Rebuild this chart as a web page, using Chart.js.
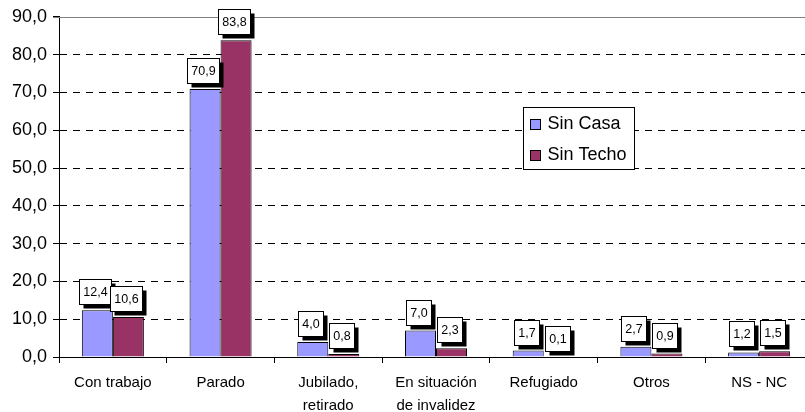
<!DOCTYPE html>
<html><head><meta charset="utf-8">
<script src="https://cdn.jsdelivr.net/npm/chart.js@4"></script>
<style>html,body{margin:0;padding:0;background:#fff;overflow:hidden;width:805px;height:412px}#wrap{width:813px;height:412px;position:relative}</style>
</head><body><div id="wrap"><canvas id="c"></canvas></div>
<script>
const categories = [["Con trabajo"], ["Parado"], ["Jubilado,", "retirado"], ["En situación", "de invalidez"], ["Refugiado"], ["Otros"], ["NS - NC"]];
const seriesNames = ["Sin Casa", "Sin Techo"];
const sinCasa = [12.4, 70.9, 4.0, 7.0, 1.7, 2.7, 1.2];
const sinTecho = [10.6, 83.8, 0.8, 2.3, 0.1, 0.9, 1.5];
const yMin = 0, yMax = 90, yStep = 10;

const colors = ["#9999FF", "#993366"];
const fmt = v => v.toFixed(1).replace('.', ',');

const labelPlugin = {
  id: 'boxLabels',
  afterDatasetsDraw(chart) {
    const ctx = chart.ctx;
    ctx.save();
    ctx.font = '12.5px "Liberation Sans", Arial, sans-serif';
    ctx.textAlign = 'center';
    ctx.textBaseline = 'middle';
    chart.data.datasets.forEach((ds, i) => {
      chart.getDatasetMeta(i).data.forEach((el, j) => {
        const txt = fmt(ds.data[j]);
        const tw = ctx.measureText(txt).width;
        const w = Math.round(tw + 8), h = 25;
        const cx = el.x - 2;
        const left = Math.round(cx - w / 2) + 0.5;
        const bottom = Math.round(el.y - 6) + 0.5;
        const top = bottom - h;
        ctx.fillStyle = '#000';
        ctx.fillRect(left + 4, top + 4, w, h);
        ctx.fillStyle = '#fff';
        ctx.fillRect(left, top, w, h);
        ctx.strokeStyle = '#000';
        ctx.lineWidth = 1;
        ctx.strokeRect(left, top, w, h);
        ctx.fillStyle = '#000';
        ctx.fillText(txt, left + w / 2, top + h / 2 + 1);
      });
    });
    ctx.restore();
  }
};

const framePlugin = {
  id: 'frame',
  beforeDatasetsDraw(chart) {
    const {ctx, chartArea: a} = chart;
    ctx.save();
    ctx.strokeStyle = '#808080';
    ctx.lineWidth = 1;
    ctx.beginPath();
    ctx.moveTo(a.left - 6, Math.round(a.top) + 0.5);
    ctx.lineTo(a.right, Math.round(a.top) + 0.5);
    ctx.stroke();
    ctx.restore();
  },
  afterDraw(chart) {
    const {ctx, chartArea: a} = chart;
    const x = Math.round(a.left + (522 - 58)) + 0.5;
    const y = Math.round(a.top + (106 - 16)) + 0.5;
    const w = 111, h = 62;
    ctx.save();
    ctx.fillStyle = '#fff';
    ctx.fillRect(x, y, w, h);
    ctx.strokeStyle = '#000';
    ctx.lineWidth = 1;
    ctx.strokeRect(x, y, w, h);
    ctx.font = '18px "Liberation Sans", Arial, sans-serif';
    ctx.textBaseline = 'middle';
    ctx.textAlign = 'left';
    seriesNames.forEach((n, i) => {
      const sy = y + 12 + i * 31;
      ctx.fillStyle = colors[i];
      ctx.fillRect(x + 7, sy, 10, 10);
      ctx.strokeStyle = '#000';
      ctx.strokeRect(x + 7, sy, 10, 10);
      ctx.fillStyle = '#000';
      ctx.fillText(n, x + 24, sy + 5);
    });
    ctx.restore();
  }
};

new Chart(document.getElementById('c'), {
  type: 'bar',
  data: {
    labels: categories,
    datasets: [
      {label: seriesNames[0], data: sinCasa, backgroundColor: colors[0], borderColor: '#000', borderWidth: 1, borderSkipped: 'bottom'},
      {label: seriesNames[1], data: sinTecho, backgroundColor: colors[1], borderColor: '#000', borderWidth: 1, borderSkipped: 'bottom'}
    ]
  },
  options: {
    responsive: true,
    maintainAspectRatio: false,
    animation: false,
    layout: {padding: {top: 16, right: 0, left: 0, bottom: 0}},
    datasets: {bar: {categoryPercentage: 0.576, barPercentage: 1}},
    plugins: {legend: {display: false}, tooltip: {enabled: false}},
    scales: {
      x: {
        offset: true,
        grid: {offset: true, drawOnChartArea: false, drawTicks: true, tickLength: 6, tickColor: '#000', tickWidth: 1},
        border: {display: true, color: '#000', width: 1},
        ticks: {color: '#000', font: {family: '"Liberation Sans", Arial, sans-serif', size: 15, lineHeight: 1.55}, padding: 8, maxRotation: 0, autoSkip: false},
        afterFit(s) { s.height = 55; }
      },
      y: {
        min: yMin, max: yMax,
        grid: {
          color: c => (c.tick && (c.tick.value === yMax || c.tick.value === yMin)) ? 'rgba(0,0,0,0)' : '#000',
          lineWidth: 1, drawTicks: true, tickLength: 6, tickColor: '#000', tickBorderDash: []
        },
        border: {display: true, color: '#000', width: 1, dash: [7, 6]},
        ticks: {stepSize: yStep, color: '#000', font: {family: '"Liberation Sans", Arial, sans-serif', size: 18}, padding: 6, callback: v => fmt(v)},
        afterFit(s) { s.width = 59; }
      }
    }
  },
  plugins: [labelPlugin, framePlugin]
});
</script></body></html>
